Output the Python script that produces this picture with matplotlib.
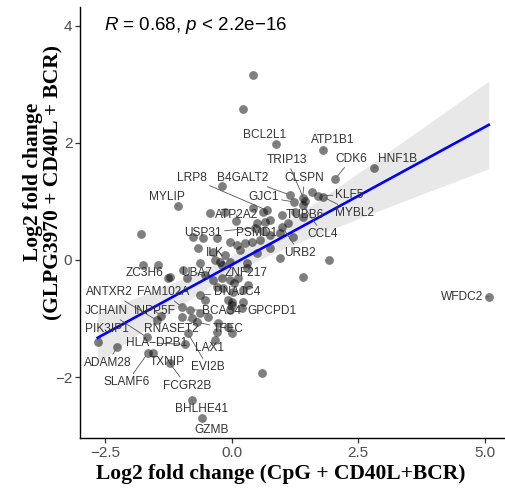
import numpy as np
import matplotlib
matplotlib.use("Agg")
import matplotlib.pyplot as plt

plt.rcParams['font.family'] = ['Liberation Sans', 'DejaVu Sans']
plt.rcParams['mathtext.fontset'] = 'custom'
plt.rcParams['mathtext.rm'] = 'Liberation Sans'
plt.rcParams['mathtext.it'] = 'Liberation Sans:italic'

# ---- unlabeled genes (x: CpG + CD40L+BCR, y: GLPG3970 + CD40L + BCR) ----
other_x = [0.41, 0.22, -1.80, -0.20, -0.43, -0.14, 0.41, 0.61, 0.99, 1.25,
           0.75, 0.65, 0.49, 1.11, -0.77, -0.57, -0.30, -0.04, 0.10, 0.26,
           0.40, 0.55, 0.75, 0.95, -0.67, -0.38, -0.14, 0.16, 0.49, 0.75,
           0.95, -0.24, 1.92, 1.40, 1.58, -0.63, -0.34, -0.04, 0.30, -0.53,
           -0.20, -0.04, 0.12, -0.18, 0.02, 0.22, -0.30, -0.53, -0.08, 0.22,
           -0.63, -0.47, 0.00, -0.99, -1.23, -1.46, -1.76, -0.28, -0.30, 0.00,
           -0.08, 0.59, -0.97, -0.89, 0.32, 0.30, 1.21, -0.04, 0.00]
other_y = [3.16, 2.58, 0.44, 1.26, 0.80, 0.82, 0.89, 0.82, 0.77, 0.82,
           0.68, 0.65, 0.63, 0.63, 0.39, 0.38, 0.38, 0.31, 0.26, 0.29,
           0.31, 0.34, 0.43, 0.46, 0.21, 0.14, 0.09, 0.17, 0.12, 0.21,
           0.03, -0.03, 0.00, -0.29, 1.16, -0.05, 0.00, -0.03, -0.05, -0.26,
           -0.31, -0.34, -0.31, -0.48, -0.55, -0.51, -0.46, -0.68, -0.68, -0.72,
           -0.91, -0.97, -0.77, -0.97, -0.29, -0.09, -0.09, -1.08, -1.23, -1.25,
           -1.15, -1.93, -0.17, -0.31, -0.43, -0.14, 0.39, -0.85, -0.72]

# ---- labeled genes ----
lab_genes = ['BCL2L1', 'ATP1B1', 'TRIP13', 'CDK6', 'HNF1B', 'LRP8', 'B4GALT2',
             'CLSPN', 'MYLIP', 'GJC1', 'KLF5', 'MYBL2', 'ATP2A2', 'TUBB6',
             'USP31', 'PSMD1', 'CCL4', 'ILK', 'URB2', 'ZC3H6', 'UBA7', 'ZNF217',
             'ANTXR2', 'FAM102A', 'DNAJC4', 'JCHAIN', 'INPP5F', 'BCAS4',
             'GPCPD1', 'PIK3IP1', 'RNASET2', 'TFEC', 'HLA\u2212DPB1', 'LAX1',
             'EVI2B', 'ADAM28', 'TXNIP', 'SLAMF6', 'FCGR2B', 'BHLHE41', 'GZMB',
             'WFDC2']
lab_x = [0.87, 1.80, 1.44, 2.04, 2.81, 0.69, 1.15,
         1.40, -1.07, 1.23, 1.70, 1.80, 0.08, 1.40,
         0.45, 0.62, 1.40, -0.20, 1.00, -1.26, -0.38, 0.05,
         -1.48, -0.99, -0.63, -1.68, -1.40, -0.83,
         0.20, -2.65, -0.79, -0.69, -0.93, -0.34,
         -0.87, -2.27, -1.56, -1.66, -1.23, -0.79, -0.59,
         5.08]
lab_y = [1.98, 1.88, 1.01, 1.38, 1.57, 0.85, 1.11,
         1.06, 0.92, 0.99, 1.10, 1.08, 0.66, 0.74,
         0.55, 0.50, 0.94, -0.08, 0.56, -0.31, -0.34, -0.40,
         -1.03, -0.80, -0.60, -1.32, -0.95, -0.85,
         -0.82, -1.40, -0.99, -1.06, -1.44, -1.37,
         -1.25, -1.49, -1.59, -1.59, -1.76, -2.39, -2.70,
         -0.63]
# repelled text positions (layout)
text_x = [0.65, 2.00, 1.09, 2.37, 3.28, -0.79, 0.22,
          1.44, -1.28, 0.63, 2.33, 2.43, 0.10, 1.44,
          -0.57, 0.49, 1.80, -0.34, 1.34, -1.72, -0.69, 0.28,
          -2.41, -1.36, 0.10, -2.47, -1.52, -0.20,
          0.79, -2.47, -1.19, -0.08, -1.48, -0.45,
          -0.47, -2.45, -1.28, -2.07, -0.89, -0.59, -0.40,
          4.55]
text_y = [2.14, 2.05, 1.71, 1.73, 1.73, 1.40, 1.40,
          1.40, 1.08, 1.08, 1.11, 0.80, 0.77, 0.77,
          0.46, 0.46, 0.44, 0.12, 0.12, -0.22, -0.22, -0.22,
          -0.55, -0.55, -0.55, -0.87, -0.87, -0.87,
          -0.87, -1.18, -1.18, -1.18, -1.42, -1.50,
          -1.83, -1.76, -1.74, -2.09, -2.15, -2.55, -2.91,
          -0.63]

stat_text = r'$\it{R}$ = 0.68, $\it{p}$ < 2.2e$-$16'
xlabel = 'Log2 fold change (CpG + CD40L+BCR)'
ylabel = 'Log2 fold change\n(GLPG3970 + CD40L + BCR)'
xticks = [-2.5, 0.0, 2.5, 5.0]
yticks = [-2, 0, 2, 4]

# ---- figure ----
W, H = 505, 492
fig = plt.figure(figsize=(W / 100, H / 100), dpi=100)
AX_L, AX_R, AX_T, AX_B = 80, 508, 7, 438
ax = fig.add_axes([AX_L / W, (H - AX_B) / H, (AX_R - AX_L) / W, (AX_B - AX_T) / H])

all_x = np.array(other_x + lab_x)
all_y = np.array(other_y + lab_y)

# linear fit + 95% CI
n = len(all_x)
b, a = np.polyfit(all_x, all_y, 1)
xs = np.linspace(all_x.min(), all_x.max(), 200)
ys = a + b * xs
resid = all_y - (a + b * all_x)
s = np.sqrt(np.sum(resid ** 2) / (n - 2))
sxx = np.sum((all_x - all_x.mean()) ** 2)
se = s * np.sqrt(1 / n + (xs - all_x.mean()) ** 2 / sxx)
tval = 1.98
ax.fill_between(xs, ys - tval * se, ys + tval * se, color='#e8e8e8', lw=0, zorder=1)

ax.scatter(all_x, all_y, s=40, color='black', alpha=0.5, lw=0, zorder=2)
ax.plot(xs, ys, color='#0000ff', lw=1.9, zorder=3)

for g, px, py, tx, ty in zip(lab_genes, lab_x, lab_y, text_x, text_y):
    ax.annotate(g, xy=(px, py), xytext=(tx, ty), ha='center', va='center',
                fontsize=8.6, color='#333333', zorder=4,
                arrowprops=dict(arrowstyle='-', color='#555555', lw=0.6,
                                shrinkA=0, shrinkB=2.5))

ax.text(-2.52, 4.0, stat_text, fontsize=13.5, ha='left', va='center', color='black')

ax.set_xlim(-3.0, 5.46)
ax.set_ylim(-3.04, 4.32)
ax.set_xticks(xticks)
ax.set_xticklabels(['\u22122.5', '0.0', '2.5', '5.0'])
ax.set_yticks(yticks)
ax.set_yticklabels(['\u22122', '0', '2', '4'])
ax.tick_params(axis='both', length=3.5, width=0.9, color='#333333',
               labelsize=11, labelcolor='#4d4d4d', pad=2)
for sp in ['top', 'right']:
    ax.spines[sp].set_visible(False)
for sp in ['left', 'bottom']:
    ax.spines[sp].set_linewidth(1.0)
    ax.spines[sp].set_color('black')

ax.set_xlabel(xlabel, family='Liberation Serif', fontweight='bold', fontsize=15.5)
ax.xaxis.set_label_coords((281 - AX_L) / (AX_R - AX_L), -(464 - AX_B) / (AX_B - AX_T))
ax.set_ylabel(ylabel, family='Liberation Serif', fontweight='bold', fontsize=15.5,
              linespacing=1.0)
ax.yaxis.set_label_coords(-(AX_L - 63) / (AX_R - AX_L), (AX_B - 182) / (AX_B - AX_T))

fig.savefig('out.png', dpi=100)
